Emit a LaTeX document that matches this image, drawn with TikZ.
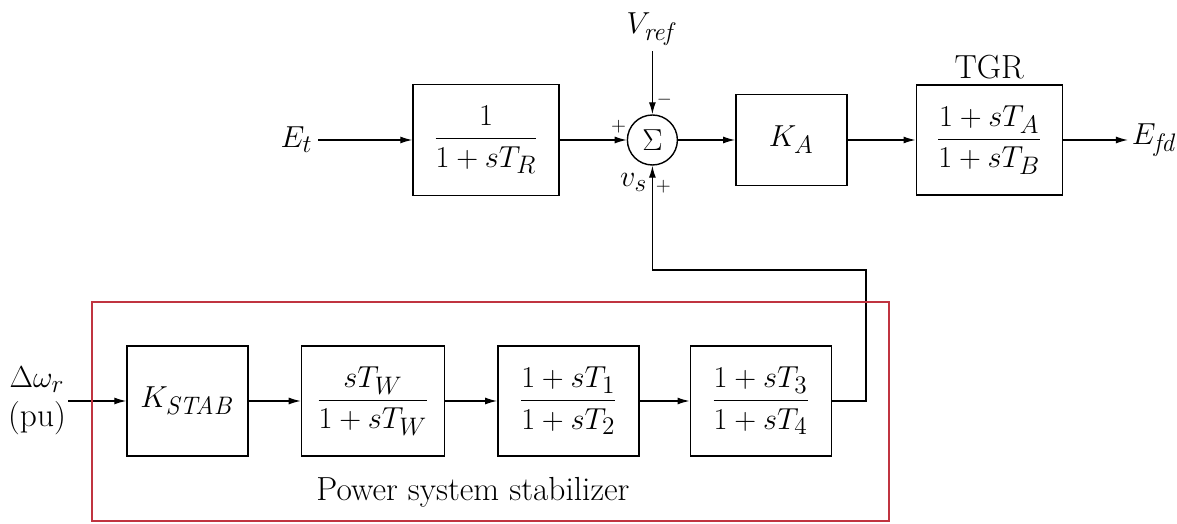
\documentclass[tikz,border=0pt]{standalone}
\usepackage{amsmath}
\usetikzlibrary{positioning, arrows.meta}
\definecolor{pssred}{RGB}{192,52,64}

\begin{document}
\begin{tikzpicture}[
  >={Latex[length=2.4mm, width=1.4mm]},
  every node/.style={font=\fontsize{19}{22}\selectfont, inner sep=3pt},
  blk/.style    = {draw, line width=0.8pt, minimum height=2.2cm, inner sep=2pt},
  sumnode/.style = {draw, circle, line width=0.8pt, minimum size=1.0cm, inner sep=0pt},
  sgn/.style    = {font=\fontsize{11}{12}\selectfont, inner sep=0pt},
  arr/.style    = {->, line width=0.7pt},
  pssframe/.style = {draw=pssred, line width=1.2pt},
]
  \useasboundingbox (0,0) rectangle (23.54,10.48);
  % Exciter path: E_t -> transducer -> sum -> K_A -> TGR -> E_fd.
  \node[blk, minimum width=2.92cm, minimum height=2.22cm] (regl) at (9.72,7.68) {$\dfrac{1}{1+sT_R}$};
  \node[sumnode, right=1.34cm of regl]                      (sum)  {$\Sigma$};
  \node[blk, minimum width=2.22cm, minimum height=1.82cm, right=1.14cm of sum] (ka) {$K_A$};
  \node[blk, minimum width=2.92cm, right=1.36cm of ka]      (tgr)  {$\dfrac{1+sT_A}{1+sT_B}$};
  \node[above=0pt of tgr]                                   (tgrlbl) {TGR};
  \node[anchor=east] (et)   at (6.36,7.68) {$E_t$};
  \node[right=1.3cm of tgr, inner sep=2pt]                  (efd)  {$E_{\mathit{fd}}$};
  \node[above=1.26cm of sum]                                (vref) {$V_{\mathit{ref}}$};
  % Signs round the summing point.
  \node[sgn] (pa) at ([xshift=-0.16cm, yshift=0.26cm]sum.west)  {$+$};
  \node[sgn] (mi) at ([xshift=0.24cm, yshift=0.3cm]sum.north)   {$-$};
  \node[sgn] (pb) at ([xshift=0.22cm, yshift=-0.42cm]sum.south) {$+$};
  \node[anchor=north east, inner sep=0pt] (vs) at ([xshift=-0.1cm, yshift=-0.15cm]sum.south) {$v_s$};
  % Stabilizer path.
  \node[blk, minimum width=2.42cm] (kstab) at (3.75,2.46) {$K_{\mathit{STAB}}$};
  \node[blk, minimum width=2.86cm, right=1.04cm of kstab] (wash)  {$\dfrac{sT_W}{1+sT_W}$};
  \node[blk, minimum width=2.82cm, right=1.04cm of wash]  (lead1) {$\dfrac{1+sT_1}{1+sT_2}$};
  \node[blk, minimum width=2.82cm, right=1.0cm of lead1]  (lead2) {$\dfrac{1+sT_3}{1+sT_4}$};
  \node[align=center, anchor=east, inner sep=1pt] (dw) at (1.36,2.46) {$\Delta\omega_r$\\(pu)};
  \node (pss) at (9.46,0.64) {Power system stabilizer};
  \coordinate (fbk) at (17.32,5.08);
  \foreach \a/\b in {et/regl, regl/sum, sum/ka, ka/tgr, tgr/efd, vref/sum, dw/kstab, kstab/wash, wash/lead1, lead1/lead2}
     \draw[arr] (\a) -- (\b);
  \draw[arr] (lead2.east) -| (fbk) -| (sum.south);
  \draw[pssframe] (1.84,0.06) rectangle (17.78,4.44);
\end{tikzpicture}
\end{document}
